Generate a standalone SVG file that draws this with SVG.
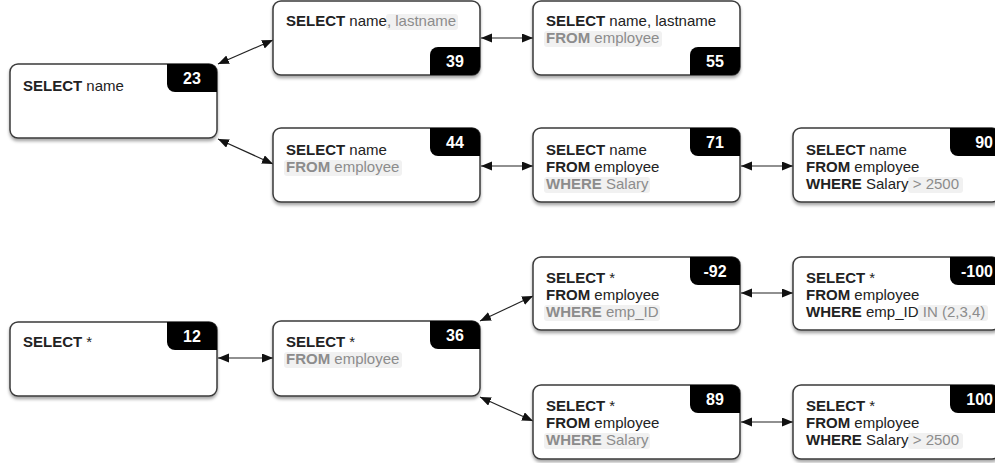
<svg xmlns="http://www.w3.org/2000/svg" width="995" height="463" viewBox="0 0 995 463">
<style>
  .box{fill:#fff;stroke:#3a3a3a;stroke-width:1.5;filter:url(#sh)}
  .badge{fill:#000}
  .bt{font-family:"Liberation Sans",Arial,sans-serif;font-size:16px;font-weight:bold;fill:#fff;text-anchor:middle}
  .bte{font-family:"Liberation Sans",Arial,sans-serif;font-size:16px;font-weight:bold;fill:#fff;text-anchor:end}
  .t{font-family:"Liberation Sans",Arial,sans-serif;font-size:15px;fill:#222}
  .b{font-weight:bold}
  .g{fill:#8c8c8c}
  .hl{fill:#f1f1f1}
  .c{stroke:#222;stroke-width:1.2;fill:none;marker-start:url(#ah);marker-end:url(#ah)}
</style>
<defs>
  <filter id="sh" x="-10%" y="-10%" width="120%" height="130%">
    <feDropShadow dx="0" dy="2.5" stdDeviation="1.8" flood-color="#000" flood-opacity="0.35"/>
  </filter>
  <marker id="ah" markerUnits="userSpaceOnUse" markerWidth="12" markerHeight="10" refX="11" refY="4.5" orient="auto-start-reverse">
    <path d="M0,0 L11,4.5 L0,9 Z" fill="#111"/>
  </marker>
</defs>
<rect width="995" height="463" fill="#fff"/>

<g id="connectors">
  <line class="c" x1="218" y1="64" x2="273" y2="40"/>
  <line class="c" x1="218" y1="139" x2="273" y2="164"/>
  <line class="c" x1="481" y1="38" x2="533" y2="38"/>
  <line class="c" x1="481" y1="166" x2="533" y2="166"/>
  <line class="c" x1="741" y1="166" x2="793" y2="166"/>
  <line class="c" x1="218" y1="358" x2="273" y2="358"/>
  <line class="c" x1="480" y1="321" x2="533" y2="296"/>
  <line class="c" x1="480" y1="397" x2="533" y2="421"/>
  <line class="c" x1="741" y1="293" x2="793" y2="293"/>
  <line class="c" x1="741" y1="422" x2="793" y2="422"/>
</g>

<g id="n23">
  <rect class="box" x="10" y="64" width="207" height="74" rx="8"/>
  <path class="badge" d="M167,64 H209 A8,8 0 0 1 217,72 V92 H175 A8,8 0 0 1 167,84 Z"/>
  <text class="bt" x="192" y="84">23</text>
  <text class="t" x="23" y="91"><tspan class="b">SELECT</tspan> name</text>
</g>

<g id="n39">
  <rect class="box" x="273" y="1" width="207" height="74" rx="8"/>
  <path class="badge" d="M438,47 H480 V67 A8,8 0 0 1 472,75 H430 V55 A8,8 0 0 1 438,47 Z"/>
  <text class="bt" x="455" y="67">39</text>
  <rect class="hl" x="386" y="14" width="72" height="16" rx="3"/>
  <text class="t" x="286" y="26"><tspan class="b">SELECT</tspan> name<tspan class="g">, lastname</tspan></text>
</g>

<g id="n55">
  <rect class="box" x="533" y="1" width="207" height="74" rx="8"/>
  <path class="badge" d="M698,47 H740 V67 A8,8 0 0 1 732,75 H690 V55 A8,8 0 0 1 698,47 Z"/>
  <text class="bt" x="715" y="67">55</text>
  <rect class="hl" x="544" y="31" width="118" height="16" rx="3"/>
  <text class="t" x="546" y="26"><tspan class="b">SELECT</tspan> name, lastname</text>
  <text class="t g" x="546" y="43"><tspan class="b">FROM</tspan> employee</text>
</g>

<g id="n44">
  <rect class="box" x="273" y="128" width="207" height="74" rx="8"/>
  <path class="badge" d="M430,128 H472 A8,8 0 0 1 480,136 V156 H438 A8,8 0 0 1 430,148 Z"/>
  <text class="bt" x="455" y="148">44</text>
  <rect class="hl" x="284" y="160" width="118" height="16" rx="3"/>
  <text class="t" x="286" y="155"><tspan class="b">SELECT</tspan> name</text>
  <text class="t g" x="286" y="172"><tspan class="b">FROM</tspan> employee</text>
</g>

<g id="n71">
  <rect class="box" x="533" y="128" width="207" height="74" rx="8"/>
  <path class="badge" d="M690,128 H732 A8,8 0 0 1 740,136 V156 H698 A8,8 0 0 1 690,148 Z"/>
  <text class="bt" x="715" y="148">71</text>
  <rect class="hl" x="544" y="177" width="106" height="16" rx="3"/>
  <text class="t" x="546" y="155"><tspan class="b">SELECT</tspan> name</text>
  <text class="t" x="546" y="172"><tspan class="b">FROM</tspan> employee</text>
  <text class="t g" x="546" y="189"><tspan class="b">WHERE</tspan> Salary</text>
</g>

<g id="n90">
  <rect class="box" x="793" y="128" width="207" height="74" rx="8"/>
  <path class="badge" d="M950,128 H992 A8,8 0 0 1 1000,136 V156 H958 A8,8 0 0 1 950,148 Z"/>
  <text class="bte" x="993" y="148">90</text>
  <rect class="hl" x="908" y="177" width="55" height="16" rx="3"/>
  <text class="t" x="806" y="155"><tspan class="b">SELECT</tspan> name</text>
  <text class="t" x="806" y="172"><tspan class="b">FROM</tspan> employee</text>
  <text class="t" x="806" y="189"><tspan class="b">WHERE</tspan> Salary<tspan class="g"> &gt; 2500</tspan></text>
</g>

<g id="n12">
  <rect class="box" x="10" y="322" width="207" height="74" rx="8"/>
  <path class="badge" d="M167,322 H209 A8,8 0 0 1 217,330 V350 H175 A8,8 0 0 1 167,342 Z"/>
  <text class="bt" x="192" y="342">12</text>
  <text class="t" x="23" y="347"><tspan class="b">SELECT</tspan> *</text>
</g>

<g id="n36">
  <rect class="box" x="273" y="321" width="207" height="75" rx="8"/>
  <path class="badge" d="M430,321 H472 A8,8 0 0 1 480,329 V349 H438 A8,8 0 0 1 430,341 Z"/>
  <text class="bt" x="455" y="341">36</text>
  <rect class="hl" x="284" y="352" width="118" height="16" rx="3"/>
  <text class="t" x="286" y="347"><tspan class="b">SELECT</tspan> *</text>
  <text class="t g" x="286" y="364"><tspan class="b">FROM</tspan> employee</text>
</g>

<g id="n-92">
  <rect class="box" x="533" y="257" width="207" height="73" rx="8"/>
  <path class="badge" d="M690,257 H732 A8,8 0 0 1 740,265 V285 H698 A8,8 0 0 1 690,277 Z"/>
  <text class="bt" x="715" y="277">-92</text>
  <rect class="hl" x="544" y="305" width="116" height="16" rx="3"/>
  <text class="t" x="546" y="283"><tspan class="b">SELECT</tspan> *</text>
  <text class="t" x="546" y="300"><tspan class="b">FROM</tspan> employee</text>
  <text class="t g" x="546" y="317"><tspan class="b">WHERE</tspan> emp_ID</text>
</g>

<g id="n-100">
  <rect class="box" x="793" y="257" width="207" height="73" rx="8"/>
  <path class="badge" d="M950,257 H992 A8,8 0 0 1 1000,265 V285 H958 A8,8 0 0 1 950,277 Z"/>
  <text class="bte" x="993" y="277">-100</text>
  <rect class="hl" x="918" y="305" width="70" height="16" rx="3"/>
  <text class="t" x="806" y="283"><tspan class="b">SELECT</tspan> *</text>
  <text class="t" x="806" y="300"><tspan class="b">FROM</tspan> employee</text>
  <text class="t" x="806" y="317"><tspan class="b">WHERE</tspan> emp_ID<tspan class="g"> IN (2,3,4)</tspan></text>
</g>

<g id="n89">
  <rect class="box" x="533" y="385" width="207" height="74" rx="8"/>
  <path class="badge" d="M690,385 H732 A8,8 0 0 1 740,393 V413 H698 A8,8 0 0 1 690,405 Z"/>
  <text class="bt" x="715" y="405">89</text>
  <rect class="hl" x="544" y="433" width="106" height="16" rx="3"/>
  <text class="t" x="546" y="411"><tspan class="b">SELECT</tspan> *</text>
  <text class="t" x="546" y="428"><tspan class="b">FROM</tspan> employee</text>
  <text class="t g" x="546" y="445"><tspan class="b">WHERE</tspan> Salary</text>
</g>

<g id="n100">
  <rect class="box" x="793" y="385" width="207" height="74" rx="8"/>
  <path class="badge" d="M950,385 H992 A8,8 0 0 1 1000,393 V413 H958 A8,8 0 0 1 950,405 Z"/>
  <text class="bte" x="993" y="405">100</text>
  <rect class="hl" x="908" y="433" width="55" height="16" rx="3"/>
  <text class="t" x="806" y="411"><tspan class="b">SELECT</tspan> *</text>
  <text class="t" x="806" y="428"><tspan class="b">FROM</tspan> employee</text>
  <text class="t" x="806" y="445"><tspan class="b">WHERE</tspan> Salary<tspan class="g"> &gt; 2500</tspan></text>
</g>
</svg>
